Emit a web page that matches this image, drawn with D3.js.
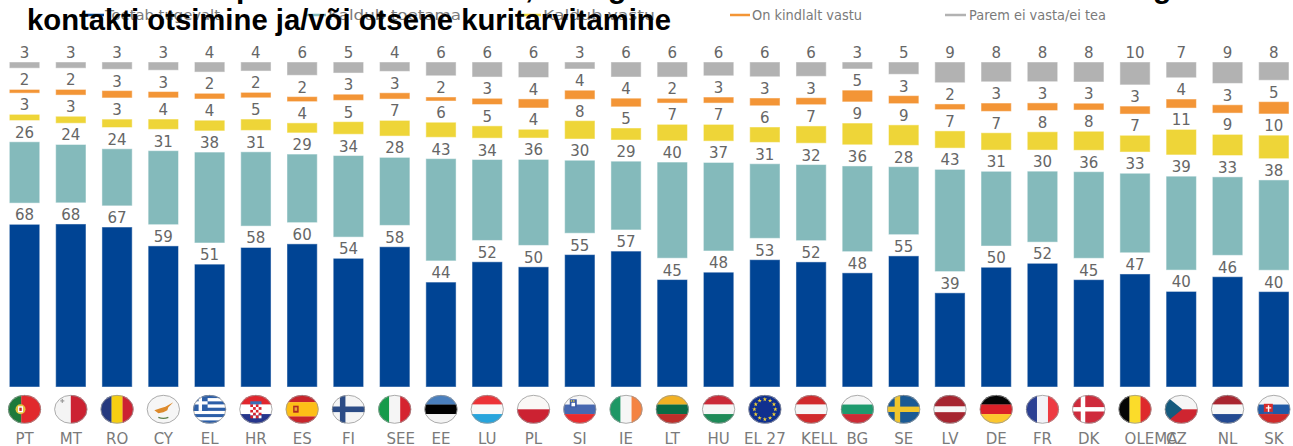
<!DOCTYPE html>
<html><head><meta charset="utf-8">
<script src="https://cdn.jsdelivr.net/npm/d3@7/dist/d3.min.js"></script>
<style>html,body{margin:0;padding:0;background:#fff;overflow:hidden}svg{display:block}</style>
</head><body><svg id="c" width="1293" height="446"></svg>
<script>
const categories=["PT","MT","RO","CY","EL","HR","ES","FI","SEE","EE","LU","PL","SI","IE","LT","HU","EL 27","KELL","BG","SE","LV","DE","FR","DK","OLEMA","CZ","NL","SK"];
const seriesNames=["Toetab tugevalt","Kaldub toetama","Kaldub vastu","On kindlalt vastu","Parem ei vasta/ei tea"];
const colors=["#004494","#84BABB","#EED538","#F39536","#B2B2B2"];
const tugevalt=[67.8,68,66.6,58.75,51.1,57.8,59.6,53.6,58.2,43.6,52,49.7,55,56.6,44.6,47.6,52.9,52,47.6,54.6,39.2,49.7,51.6,44.6,47,39.6,45.8,39.6];
const toetama=[25.6,24.3,23.75,30.8,37.8,30.8,28.5,34,28.2,42.5,33.6,35.55,30.3,28.6,39.9,36.7,31,31.6,35.7,28.3,42.5,31,29.6,36,33,38.9,32.6,37.5];
const vastu=[2.55,2.9,3.47,4.3,4.4,4.7,4.17,5.28,6.5,6.25,5.14,3.6,7.64,5,6.8,6.94,6.4,7.2,9.03,8.55,7.2,7.2,7.64,7.9,6.94,10.55,8.75,9.7];
const kindlalt=[1.55,2.36,3.05,2.6,2.36,2.2,2.08,2.55,2.64,1.67,2.55,3.75,3.75,3.55,1.95,2.5,3.2,2.9,4.86,3.33,2.36,3.47,3.2,2.8,3.3,3.75,3.47,5.1];
const eiTea=[2.6,2.6,3.05,3.45,4.2,3.75,5.55,4.6,3.9,5.7,6.25,6.4,2.9,6.25,6.25,5.7,6.1,5.97,2.9,5.14,8.6,8.2,8.2,8.3,9.5,6.5,8.9,7.6];
const spacer=8.85;
const titleLine="kontakti otsimine ja/või otsene kuritarvitamine";
const labelNudge={"SEE":6,"KELL":8,"OLEMA":16,"CZ":-5};

const svg=d3.select("#c");
const font="'DejaVu Sans',Verdana,sans-serif";
const titleFont="'Liberation Sans',Arial,sans-serif";
const valueArrays=[tugevalt,toetama,vastu,kindlalt,eiTea];
const table=categories.map((c,i)=>{
  const r={c};
  valueArrays.forEach((a,k)=>{r["s"+k]=a[i]; if(k<4) r["g"+k]=spacer;});
  return r;
});
const keys=["s0","g0","s1","g1","s2","g2","s3","g3","s4"];
const stacked=d3.stack().keys(keys).offset(d3.stackOffsetExpand)(table);
const x=d3.scaleBand().domain(categories).range([1.4,1.4+46.27*28]).paddingInner(0.345).paddingOuter(0.1725);
const y=d3.scaleLinear().domain([0,1]).range([387,62]);

stacked.filter(s=>s.key[0]==="s").forEach(s=>{
  const k=+s.key[1],col=colors[k];
  const g=svg.append("g");
  g.selectAll("rect").data(s).join("rect")
    .attr("x",d=>x(d.data.c)+.5).attr("width",x.bandwidth()-1)
    .attr("y",d=>y(d[1])+.5).attr("height",d=>Math.max(0,y(d[0])-y(d[1])-1))
    .attr("fill",col).attr("stroke",col).attr("stroke-opacity",.55).attr("stroke-width",1);
  g.selectAll("text").data(s).join("text")
    .attr("x",d=>x(d.data.c)+x.bandwidth()/2).attr("y",d=>y(d[1])-4)
    .attr("text-anchor","middle").attr("font-family",font).attr("font-size",15).attr("fill","#666")
    .text(d=>Math.round(d.data[s.key]));
});

// country axis
const axis=svg.append("g").attr("transform","translate(0,387)").call(d3.axisBottom(x).tickSize(0).tickPadding(0));
axis.select(".domain").remove();
axis.selectAll("text").attr("x",d=>labelNudge[d]||0).attr("y",57).attr("dy",0).attr("font-family",font).attr("font-size",15).attr("fill","#7a7a7a");

// flags
const W=16.5,H=14.3;
const flagSpecs={
 PT:{d:"v",c:["#1E7A3A","#E1292C"],w:[2,3]},
 MT:{d:"v",c:["#F4F4F4","#CC2232"]},
 RO:{d:"v",c:["#25397F","#F5CE12","#CC2232"]},
 CY:{d:"h",c:["#F6F6F6"]},
 EL:{d:"h",c:["#2D5FA8","#fff","#2D5FA8","#fff","#2D5FA8","#fff","#2D5FA8","#fff","#2D5FA8"]},
 HR:{d:"h",c:["#E1262D","#fff","#26368C"]},
 ES:{d:"h",c:["#C8242B","#FDBE17","#C8242B"],w:[1,2,1]},
 FI:{d:"h",c:["#F5F5F5"]},
 SEE:{d:"v",c:["#169B4B","#F5F5F5","#D5232F"]},
 EE:{d:"h",c:["#4A7FBD","#000","#F4F4F4"]},
 LU:{d:"h",c:["#EC3237","#F8F8F8","#27A4DC"]},
 PL:{d:"h",c:["#FAF8F6","#CC2232"]},
 SI:{d:"h",c:["#F6F6F6","#4768B0","#EA2B2E"]},
 IE:{d:"v",c:["#1E9765","#F6F6F6","#F48342"]},
 LT:{d:"h",c:["#F2B124","#0A6B45","#BE2E2A"]},
 HU:{d:"h",c:["#CB2A38","#F6F6F6","#1E8A58"]},
 "EL 27":{d:"h",c:["#10308F"]},
 KELL:{d:"h",c:["#D12A2C","#F6F6F6","#D12A2C"]},
 BG:{d:"h",c:["#F6F6F6","#1E9A6E","#CC2B35"]},
 SE:{d:"h",c:["#1B5A94"]},
 LV:{d:"h",c:["#A62530","#F6F6F6","#A62530"],w:[2,1,2]},
 DE:{d:"h",c:["#050505","#DA2128","#FCC72E"]},
 FR:{d:"v",c:["#2B3F93","#F3F3F8","#EE3A42"]},
 DK:{d:"h",c:["#CF2B3C"]},
 OLEMA:{d:"v",c:["#050505","#FBDC2A","#DE2A2C"]},
 CZ:{d:"h",c:["#F6F6F6","#CF2530"]},
 NL:{d:"h",c:["#A92530","#F8F8F8","#234A92"]},
 SK:{d:"h",c:["#F6F6F6","#1F5AA6","#CF2B2B"]}
};
const defs=svg.append("defs");
defs.append("clipPath").attr("id","flagClip").append("ellipse").attr("rx",W).attr("ry",H);
const box=(g,x0,y0,w,h,f)=>g.append("rect").attr("x",x0).attr("y",y0).attr("width",w).attr("height",h).attr("fill",f);
const flagExtras={
 PT:g=>{g.append("circle").attr("cx",-4).attr("cy",0).attr("r",5).attr("fill","#E5C33C");box(g,-6.5,-3,5,6,"#fff");box(g,-5.2,-1.6,2.4,3.2,"#C1272D");},
 MT:g=>{box(g,-10.5,-9,4,1.2,"#9a9a9a");box(g,-9.1,-10.4,1.2,4,"#9a9a9a");},
 CY:g=>{g.append("path").attr("d","M-9 1 L-3 -1 L2 -2.5 L10 -7 L5 -2 L4 1 L0 3 L-5 4 Z").attr("fill","#DD8A2C");
        g.append("path").attr("d","M-5 8 Q0 10 5 8").attr("fill","none").attr("stroke","#5E7F4A").attr("stroke-width",1.3);},
 EL:g=>{box(g,-W,-H,14.5,15.9,"#2D5FA8");box(g,-11,-H,3.4,15.9,"#fff");box(g,-W,-8,14.5,3.2,"#fff");},
 HR:g=>{const s=2.8;for(let i=0;i<4;i++)for(let j=0;j<5;j++)box(g,-5.6+i*s,-5+j*s,s,s,(i+j)%2?"#fff":"#D9232D");
        box(g,-5.6,-8,11.2,3,"#3A6FB5");},
 ES:g=>{box(g,-9,-3.6,5.5,7,"#B02A22");box(g,-7.6,-2,2.6,3.5,"#E8A33A");},
 FI:g=>{box(g,-8.5,-H,5.5,2*H,"#2C4C86");box(g,-W,-2.8,2*W,5.6,"#2C4C86");},
 SI:g=>{box(g,-10,-10,7,8,"#3C5BA5");box(g,-8.3,-6.5,3.6,3.5,"#fff");box(g,-9,-9,1.4,1.4,"#F4D93A");box(g,-6.7,-9,1.4,1.4,"#F4D93A");},
 "EL 27":g=>{const star=d3.symbol().type(d3.symbolStar).size(6)();
        d3.range(12).forEach(i=>{const a=i*Math.PI/6;g.append("path").attr("d",star).attr("fill","#F4D234")
          .attr("transform",`translate(${10.5*Math.cos(a)},${10*Math.sin(a)})`);});},
 SE:g=>{box(g,-9,-H,5.5,2*H,"#F0C52C");box(g,-W,-2.7,2*W,5.4,"#F0C52C");},
 DK:g=>{box(g,-8,-H,4.5,2*H,"#fff");box(g,-W,-2.2,2*W,4.4,"#fff");},
 CZ:g=>{g.append("path").attr("d",`M${-W} ${-H} L1 0 L${-W} ${H} Z`).attr("fill","#155A7E");},
 SK:g=>{box(g,-10,-5.5,9,10,"#D62B2B");box(g,-6,-4,1.4,7,"#fff");box(g,-8,-2,5.4,1.2,"#fff");box(g,-10,2.6,9,1.9,"#2A5EAB");}
};
const flags=svg.append("g").selectAll("g").data(categories).join("g")
  .attr("transform",d=>`translate(${x(d)+x.bandwidth()/2},409.3)`);
flags.each(function(d){
  const spec=flagSpecs[d],g=d3.select(this).append("g").attr("clip-path","url(#flagClip)");
  const w=spec.w||spec.c.map(()=>1),cum=d3.cumsum([0,...w]),total=d3.sum(w);
  const sx=d3.scaleLinear().domain([0,total]).range([-W,W]),sy=d3.scaleLinear().domain([0,total]).range([-H,H]);
  spec.c.forEach((col,i)=>{
    if(spec.d==="v")box(g,sx(cum[i]),-H,sx(cum[i+1])-sx(cum[i])+.2,2*H,col);
    else box(g,-W,sy(cum[i]),2*W,sy(cum[i+1])-sy(cum[i])+.2,col);
  });
  if(flagExtras[d])flagExtras[d](g);
  d3.select(this).append("ellipse").attr("rx",W-.3).attr("ry",H-.3).attr("fill","none").attr("stroke","#999").attr("stroke-width",.8);
});

// title: the first line is cut off by the image's top edge, only its descenders show
const clippedTitle=[["p",236],[",",525],["g",608],["g",1153]];
svg.append("g").selectAll("text").data(clippedTitle).join("text")
  .attr("x",d=>d[1]).attr("y",-2.5).attr("font-family",titleFont).attr("font-weight",700).attr("font-size",30).attr("fill","#000").text(d=>d[0]);

// legend (below the title, as in the reference)
const legendLine=[[82,104],[304,326],[518,541],[730,750],[945,966]];
const legendText=[[105,115],[328,133],[543,112],[752,110],[969,137]];
const lg=svg.append("g").selectAll("g").data(seriesNames).join("g").attr("transform","translate(0,15)");
lg.append("line").attr("x1",(d,i)=>legendLine[i][0]).attr("x2",(d,i)=>legendLine[i][1]).attr("stroke",(d,i)=>colors[i]).attr("stroke-width",2.5);
lg.append("text").attr("x",(d,i)=>legendText[i][0]).attr("y",5).attr("font-family",font).attr("font-size",13.3).attr("fill","#7a7a7a")
  .attr("textLength",(d,i)=>legendText[i][1]).attr("lengthAdjust","spacingAndGlyphs").text(d=>d);

svg.append("text").attr("x",27).attr("y",29.5).attr("font-family",titleFont)
  .attr("font-weight",700).attr("font-size",30).attr("textLength",644).attr("lengthAdjust","spacingAndGlyphs").attr("fill","#000").text(titleLine);
</script></body></html>
